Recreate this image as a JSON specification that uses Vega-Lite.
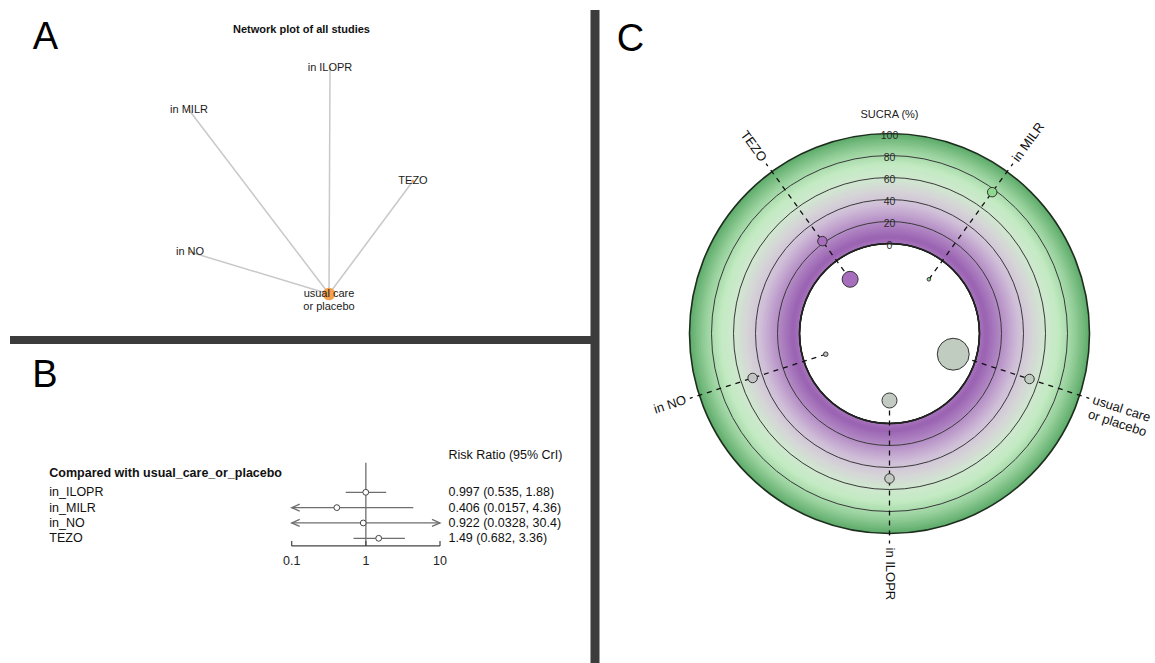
{
  "$schema": "https://vega.github.io/schema/vega-lite/v6.json",
  "background": "white",
  "padding": 0,
  "autosize": {"type": "none"},
  "width": 1155,
  "height": 663,
  "config": {"view": {"stroke": null}, "text": {"font": "Liberation Sans"}},
  "resolve": {"scale": {"x": "independent", "y": "independent", "color": "independent", "fill": "independent", "size": "independent", "radius": "independent"}},
  "datasets": {
    "trt": [
      {"trt": "in MILR", "order": 1, "sucra": 77, "n": 5, "label": "in MILR", "label2": ""},
      {"trt": "usual care or placebo", "order": 2, "sucra": 52, "n": 400, "label": "usual care", "label2": "or placebo"},
      {"trt": "in ILOPR", "order": 3, "sucra": 50, "n": 89, "label": "in ILOPR", "label2": ""},
      {"trt": "in NO", "order": 4, "sucra": 49, "n": 8, "label": "in NO", "label2": ""},
      {"trt": "TEZO", "order": 5, "sucra": 22, "n": 100, "label": "TEZO", "label2": ""}
    ]
  },
  "layer": [
    {
      "data": {"values": [
        {"node": "in ILOPR", "lx": 0.01, "ly": 2.26, "n": 12, "label": "in ILOPR", "label2": ""},
        {"node": "in MILR", "lx": -1.40, "ly": 1.84, "n": 8, "label": "in MILR", "label2": ""},
        {"node": "TEZO", "lx": 0.84, "ly": 1.13, "n": 14, "label": "TEZO", "label2": ""},
        {"node": "in NO", "lx": -1.39, "ly": 0.42, "n": 8, "label": "in NO", "label2": ""},
        {"node": "usual care", "lx": 0, "ly": 0, "n": 400, "label": "usual care", "label2": "or placebo"}
      ]},
      "layer": [
        {
          "transform": [{"filter": "datum.node !== 'usual care'"}],
          "mark": {"type": "rule", "color": "#c8c8c8", "strokeWidth": 1.5},
          "encoding": {
            "x": {"field": "lx", "type": "quantitative", "scale": {"domain": [-3.29, 8.26], "nice": false, "zero": false}, "axis": null},
            "y": {"field": "ly", "type": "quantitative", "scale": {"domain": [-3.69, 2.94], "nice": false, "zero": false}, "axis": null},
            "x2": {"datum": 0},
            "y2": {"datum": 0}
          }
        },
        {
          "mark": {"type": "circle", "color": "#f5a04c", "opacity": 1},
          "encoding": {
            "x": {"field": "lx", "type": "quantitative", "scale": {"domain": [-3.29, 8.26], "nice": false, "zero": false}, "axis": null},
            "y": {"field": "ly", "type": "quantitative", "scale": {"domain": [-3.69, 2.94], "nice": false, "zero": false}, "axis": null},
            "size": {"field": "n", "type": "quantitative", "scale": {"domain": [0, 400], "range": [0, 160]}, "legend": null}
          }
        },
        {
          "mark": {"type": "text", "font": "Liberation Sans", "fontSize": 11, "color": "#1a1a1a", "align": "center", "baseline": "middle"},
          "encoding": {
            "x": {"field": "lx", "type": "quantitative", "scale": {"domain": [-3.29, 8.26], "nice": false, "zero": false}, "axis": null},
            "y": {"field": "ly", "type": "quantitative", "scale": {"domain": [-3.69, 2.94], "nice": false, "zero": false}, "axis": null},
            "text": {"field": "label", "type": "nominal"}
          }
        },
        {
          "transform": [{"filter": "datum.label2 !== ''"}],
          "mark": {"type": "text", "font": "Liberation Sans", "fontSize": 11, "color": "#1a1a1a", "align": "center", "baseline": "middle", "dy": 13},
          "encoding": {
            "x": {"field": "lx", "type": "quantitative", "scale": {"domain": [-3.29, 8.26], "nice": false, "zero": false}, "axis": null},
            "y": {"field": "ly", "type": "quantitative", "scale": {"domain": [-3.69, 2.94], "nice": false, "zero": false}, "axis": null},
            "text": {"field": "label2", "type": "nominal"}
          }
        },
        {
          "data": {"values": [{"t": "Network plot of all studies"}]},
          "mark": {"type": "text", "font": "Liberation Sans", "fontSize": 11, "fontWeight": "bold", "color": "#111", "align": "center", "baseline": "middle"},
          "encoding": {
            "x": {"datum": -0.275, "type": "quantitative", "scale": {"domain": [-3.29, 8.26], "nice": false, "zero": false}, "axis": null},
            "y": {"datum": 2.64, "type": "quantitative", "scale": {"domain": [-3.69, 2.94], "nice": false, "zero": false}, "axis": null},
            "text": {"field": "t", "type": "nominal"}
          }
        },
        {
          "data": {"values": [{"t": "A"}]},
          "mark": {"type": "text", "font": "Liberation Sans", "fontSize": 38, "color": "#000", "align": "center", "baseline": "middle"},
          "encoding": {
            "x": {"datum": -2.835, "type": "quantitative", "scale": {"domain": [-3.29, 8.26], "nice": false, "zero": false}, "axis": null},
            "y": {"datum": 2.56, "type": "quantitative", "scale": {"domain": [-3.69, 2.94], "nice": false, "zero": false}, "axis": null},
            "text": {"field": "t", "type": "nominal"}
          }
        },
        {
          "data": {"values": [{}]},
          "mark": {"type": "rule", "color": "#3c3c3c", "strokeWidth": 8},
          "encoding": {
            "x": {"datum": -3.19, "type": "quantitative", "scale": {"domain": [-3.29, 8.26], "nice": false, "zero": false}, "axis": null},
            "x2": {"datum": 2.66},
            "y": {"datum": -0.46, "type": "quantitative", "scale": {"domain": [-3.69, 2.94], "nice": false, "zero": false}, "axis": null}
          }
        }
      ]
    },
    {
      "data": {"values": [
        {"trt": "in_ILOPR", "row": 1, "rr": 0.997, "lo": 0.535, "hi": 1.88, "txt": "0.997 (0.535, 1.88)"},
        {"trt": "in_MILR", "row": 2, "rr": 0.406, "lo": 0.0157, "hi": 4.36, "txt": "0.406 (0.0157, 4.36)"},
        {"trt": "in_NO", "row": 3, "rr": 0.922, "lo": 0.0328, "hi": 30.4, "txt": "0.922 (0.0328, 30.4)"},
        {"trt": "TEZO", "row": 4, "rr": 1.49, "lo": 0.682, "hi": 3.36, "txt": "1.49 (0.682, 3.36)"}
      ]},
      "layer": [
        {
          "data": {"values": [{}]},
          "mark": {"type": "rule", "color": "#6e6e6e", "strokeWidth": 1.3},
          "encoding": {
            "x": {"datum": 1, "type": "quantitative", "scale": {"type": "log", "domain": [1.1642e-5, 4.39e10], "nice": false}, "axis": null},
            "y": {"datum": -0.93, "type": "quantitative", "scale": {"domain": [-31.114, 12.135], "reverse": true, "nice": false, "zero": false}, "axis": null},
            "y2": {"datum": 4.5}
          }
        },
        {
          "transform": [{"calculate": "max(datum.lo, 0.1)", "as": "lo_c"}, {"calculate": "min(datum.hi, 10)", "as": "hi_c"}],
          "mark": {"type": "rule", "color": "#6e6e6e", "strokeWidth": 1.3},
          "encoding": {
            "x": {"field": "lo_c", "type": "quantitative", "scale": {"type": "log", "domain": [1.1642e-5, 4.39e10], "nice": false}, "axis": null},
            "x2": {"field": "hi_c"},
            "y": {"field": "row", "type": "quantitative", "scale": {"domain": [-31.114, 12.135], "reverse": true, "nice": false, "zero": false}, "axis": null}
          }
        },
        {
          "transform": [{"filter": "datum.lo < 0.1"}],
          "mark": {"type": "point", "shape": "M 4 -1.75 L 0 0 L 4 1.75", "size": 16, "filled": false, "stroke": "#6e6e6e", "strokeWidth": 1.3, "opacity": 1},
          "encoding": {
            "x": {"datum": 0.1, "type": "quantitative", "scale": {"type": "log", "domain": [1.1642e-5, 4.39e10], "nice": false}, "axis": null},
            "y": {"field": "row", "type": "quantitative", "scale": {"domain": [-31.114, 12.135], "reverse": true, "nice": false, "zero": false}, "axis": null}
          }
        },
        {
          "transform": [{"filter": "datum.hi > 10"}],
          "mark": {"type": "point", "shape": "M -4 -1.75 L 0 0 L -4 1.75", "size": 16, "filled": false, "stroke": "#6e6e6e", "strokeWidth": 1.3, "opacity": 1},
          "encoding": {
            "x": {"datum": 10, "type": "quantitative", "scale": {"type": "log", "domain": [1.1642e-5, 4.39e10], "nice": false}, "axis": null},
            "y": {"field": "row", "type": "quantitative", "scale": {"domain": [-31.114, 12.135], "reverse": true, "nice": false, "zero": false}, "axis": null}
          }
        },
        {
          "mark": {"type": "point", "shape": "circle", "size": 34, "filled": true, "fill": "white", "stroke": "#444", "strokeWidth": 1, "opacity": 1},
          "encoding": {
            "x": {"field": "rr", "type": "quantitative", "scale": {"type": "log", "domain": [1.1642e-5, 4.39e10], "nice": false}, "axis": null},
            "y": {"field": "row", "type": "quantitative", "scale": {"domain": [-31.114, 12.135], "reverse": true, "nice": false, "zero": false}, "axis": null}
          }
        },
        {
          "data": {"values": [{}]},
          "mark": {"type": "rule", "color": "#444", "strokeWidth": 1.2},
          "encoding": {
            "x": {"datum": 0.1, "type": "quantitative", "scale": {"type": "log", "domain": [1.1642e-5, 4.39e10], "nice": false}, "axis": null},
            "x2": {"datum": 10},
            "y": {"datum": 4.5, "type": "quantitative", "scale": {"domain": [-31.114, 12.135], "reverse": true, "nice": false, "zero": false}, "axis": null}
          }
        },
        {
          "data": {"values": [{"t": 0.1, "lab": "0.1"}, {"t": 1, "lab": "1"}, {"t": 10, "lab": "10"}]},
          "mark": {"type": "rule", "color": "#444", "strokeWidth": 1.2},
          "encoding": {
            "x": {"field": "t", "type": "quantitative", "scale": {"type": "log", "domain": [1.1642e-5, 4.39e10], "nice": false}, "axis": null},
            "y": {"datum": 4.5, "type": "quantitative", "scale": {"domain": [-31.114, 12.135], "reverse": true, "nice": false, "zero": false}, "axis": null},
            "y2": {"datum": 4.17}
          }
        },
        {
          "data": {"values": [{"t": 0.1, "lab": "0.1"}, {"t": 1, "lab": "1"}, {"t": 10, "lab": "10"}]},
          "mark": {"type": "text", "font": "Liberation Sans", "fontSize": 12.5, "color": "#222", "align": "center", "baseline": "middle"},
          "encoding": {
            "x": {"field": "t", "type": "quantitative", "scale": {"type": "log", "domain": [1.1642e-5, 4.39e10], "nice": false}, "axis": null},
            "y": {"datum": 5.46, "type": "quantitative", "scale": {"domain": [-31.114, 12.135], "reverse": true, "nice": false, "zero": false}, "axis": null},
            "text": {"field": "lab", "type": "nominal"}
          }
        },
        {
          "mark": {"type": "text", "font": "Liberation Sans", "fontSize": 12.5, "color": "#111", "align": "left", "baseline": "middle"},
          "encoding": {
            "x": {"datum": 5.38e-5, "type": "quantitative", "scale": {"type": "log", "domain": [1.1642e-5, 4.39e10], "nice": false}, "axis": null},
            "y": {"field": "row", "type": "quantitative", "scale": {"domain": [-31.114, 12.135], "reverse": true, "nice": false, "zero": false}, "axis": null},
            "text": {"field": "trt", "type": "nominal"}
          }
        },
        {
          "mark": {"type": "text", "font": "Liberation Sans", "fontSize": 12.5, "color": "#111", "align": "left", "baseline": "middle"},
          "encoding": {
            "x": {"datum": 13, "type": "quantitative", "scale": {"type": "log", "domain": [1.1642e-5, 4.39e10], "nice": false}, "axis": null},
            "y": {"field": "row", "type": "quantitative", "scale": {"domain": [-31.114, 12.135], "reverse": true, "nice": false, "zero": false}, "axis": null},
            "text": {"field": "txt", "type": "nominal"}
          }
        },
        {
          "data": {"values": [{"t": "Compared with usual_care_or_placebo"}]},
          "mark": {"type": "text", "font": "Liberation Sans", "fontSize": 12.5, "fontWeight": "bold", "color": "#111", "align": "left", "baseline": "middle"},
          "encoding": {
            "x": {"datum": 5.38e-5, "type": "quantitative", "scale": {"type": "log", "domain": [1.1642e-5, 4.39e10], "nice": false}, "axis": null},
            "y": {"datum": -0.24, "type": "quantitative", "scale": {"domain": [-31.114, 12.135], "reverse": true, "nice": false, "zero": false}, "axis": null},
            "text": {"field": "t", "type": "nominal"}
          }
        },
        {
          "data": {"values": [{"t": "Risk Ratio (95% CrI)"}]},
          "mark": {"type": "text", "font": "Liberation Sans", "fontSize": 12.5, "color": "#111", "align": "left", "baseline": "middle"},
          "encoding": {
            "x": {"datum": 13, "type": "quantitative", "scale": {"type": "log", "domain": [1.1642e-5, 4.39e10], "nice": false}, "axis": null},
            "y": {"datum": -1.43, "type": "quantitative", "scale": {"domain": [-31.114, 12.135], "reverse": true, "nice": false, "zero": false}, "axis": null},
            "text": {"field": "t", "type": "nominal"}
          }
        },
        {
          "data": {"values": [{"t": "B"}]},
          "mark": {"type": "text", "font": "Liberation Sans", "fontSize": 38, "color": "#000", "align": "center", "baseline": "middle"},
          "encoding": {
            "x": {"datum": 4.71e-5, "type": "quantitative", "scale": {"type": "log", "domain": [1.1642e-5, 4.39e10], "nice": false}, "axis": null},
            "y": {"datum": -6.59, "type": "quantitative", "scale": {"domain": [-31.114, 12.135], "reverse": true, "nice": false, "zero": false}, "axis": null},
            "text": {"field": "t", "type": "nominal"}
          }
        }
      ]
    },
    {
      "layer": [
        {
          "data": {"values": [{"hi":100,"mid":99},{"hi":98,"mid":97},{"hi":96,"mid":95},{"hi":94,"mid":93},{"hi":92,"mid":91},{"hi":90,"mid":89},{"hi":88,"mid":87},{"hi":86,"mid":85},{"hi":84,"mid":83},{"hi":82,"mid":81},{"hi":80,"mid":79},{"hi":78,"mid":77},{"hi":76,"mid":75},{"hi":74,"mid":73},{"hi":72,"mid":71},{"hi":70,"mid":69},{"hi":68,"mid":67},{"hi":66,"mid":65},{"hi":64,"mid":63},{"hi":62,"mid":61},{"hi":60,"mid":59},{"hi":58,"mid":57},{"hi":56,"mid":55},{"hi":54,"mid":53},{"hi":52,"mid":51},{"hi":50,"mid":49},{"hi":48,"mid":47},{"hi":46,"mid":45},{"hi":44,"mid":43},{"hi":42,"mid":41},{"hi":40,"mid":39},{"hi":38,"mid":37},{"hi":36,"mid":35},{"hi":34,"mid":33},{"hi":32,"mid":31},{"hi":30,"mid":29},{"hi":28,"mid":27},{"hi":26,"mid":25},{"hi":24,"mid":23},{"hi":22,"mid":21},{"hi":20,"mid":19},{"hi":18,"mid":17},{"hi":16,"mid":15},{"hi":14,"mid":13},{"hi":12,"mid":11},{"hi":10,"mid":9},{"hi":8,"mid":7},{"hi":6,"mid":5},{"hi":4,"mid":3},{"hi":2,"mid":1}]},
          "mark": {"type": "arc", "theta": 0, "theta2": 6.2832},
          "encoding": {
            "x": {"datum": 0, "type": "quantitative", "scale": {"domain": [-889.5, 265.5], "nice": false, "zero": false}, "axis": null},
            "y": {"datum": 0, "type": "quantitative", "scale": {"domain": [-329.5, 333.5], "nice": false, "zero": false}, "axis": null},
            "radius": {"field": "hi", "type": "quantitative", "stack": null, "scale": {"type": "linear", "domain": [0, 100], "range": [90, 200], "zero": false, "nice": false}},
            "color": {"field": "mid", "type": "quantitative", "scale": {"domain": [0, 6, 20, 35, 48, 60, 72, 86, 100], "range": ["#a774bc", "#9a62b2", "#b48cc5", "#cfbdd8", "#d6d4d7", "#cfe8cf", "#c2eac2", "#96d09b", "#5caa69"], "interpolate": "rgb"}, "legend": null}
          }
        },
        {
          "data": {"values": [{"s": 20}, {"s": 40}, {"s": 60}, {"s": 80}]},
          "mark": {"type": "arc", "theta": 0, "theta2": 6.2832, "filled": false, "stroke": "#3a3a3a", "strokeWidth": 1},
          "encoding": {
            "x": {"datum": 0, "type": "quantitative", "scale": {"domain": [-889.5, 265.5], "nice": false, "zero": false}, "axis": null},
            "y": {"datum": 0, "type": "quantitative", "scale": {"domain": [-329.5, 333.5], "nice": false, "zero": false}, "axis": null},
            "radius": {"field": "s", "type": "quantitative", "stack": null, "scale": {"type": "linear", "domain": [0, 100], "range": [90, 200], "zero": false, "nice": false}}
          }
        },
        {
          "data": {"values": [{"s": 100}]},
          "mark": {"type": "arc", "theta": 0, "theta2": 6.2832, "filled": false, "stroke": "#1e2e1e", "strokeWidth": 1.6},
          "encoding": {
            "x": {"datum": 0, "type": "quantitative", "scale": {"domain": [-889.5, 265.5], "nice": false, "zero": false}, "axis": null},
            "y": {"datum": 0, "type": "quantitative", "scale": {"domain": [-329.5, 333.5], "nice": false, "zero": false}, "axis": null},
            "radius": {"field": "s", "type": "quantitative", "stack": null, "scale": {"type": "linear", "domain": [0, 100], "range": [90, 200], "zero": false, "nice": false}}
          }
        },
        {
          "data": {"values": [{"s": 0}]},
          "mark": {"type": "arc", "theta": 0, "theta2": 6.2832, "fill": "white", "stroke": "#222", "strokeWidth": 1.5},
          "encoding": {
            "x": {"datum": 0, "type": "quantitative", "scale": {"domain": [-889.5, 265.5], "nice": false, "zero": false}, "axis": null},
            "y": {"datum": 0, "type": "quantitative", "scale": {"domain": [-329.5, 333.5], "nice": false, "zero": false}, "axis": null},
            "radius": {"field": "s", "type": "quantitative", "stack": null, "scale": {"type": "linear", "domain": [0, 100], "range": [90, 200], "zero": false, "nice": false}}
          }
        },
        {
          "data": {"name": "trt"},
          "transform": [
            {"calculate": "72 * datum.order - 36", "as": "deg"},
            {"calculate": "datum.deg * PI / 180", "as": "a"},
            {"calculate": "90 + 1.1 * datum.sucra", "as": "rp"},
            {"calculate": "datum.rp * sin(datum.a)", "as": "px"},
            {"calculate": "datum.rp * cos(datum.a)", "as": "py"},
            {"calculate": "67 * sin(datum.a)", "as": "bx"},
            {"calculate": "67 * cos(datum.a)", "as": "by"},
            {"calculate": "210 * sin(datum.a)", "as": "ex"},
            {"calculate": "210 * cos(datum.a)", "as": "ey"},
            {"calculate": "214 * sin(datum.a)", "as": "lx"},
            {"calculate": "214 * cos(datum.a)", "as": "ly"},
            {"calculate": "datum.deg <= 180 ? datum.deg - 90 : datum.deg - 270", "as": "tangle"}
          ],
          "layer": [
            {
              "mark": {"type": "rule", "color": "#111", "strokeWidth": 1.3, "strokeDash": [5, 5]},
              "encoding": {
                "x": {"field": "bx", "type": "quantitative", "scale": {"domain": [-889.5, 265.5], "nice": false, "zero": false}, "axis": null},
                "y": {"field": "by", "type": "quantitative", "scale": {"domain": [-329.5, 333.5], "nice": false, "zero": false}, "axis": null},
                "x2": {"field": "ex"},
                "y2": {"field": "ey"}
              }
            },
            {
              "mark": {"type": "circle", "stroke": "#333", "strokeWidth": 1, "opacity": 1, "fillOpacity": 1},
              "encoding": {
                "x": {"field": "bx", "type": "quantitative", "scale": {"domain": [-889.5, 265.5], "nice": false, "zero": false}, "axis": null},
                "y": {"field": "by", "type": "quantitative", "scale": {"domain": [-329.5, 333.5], "nice": false, "zero": false}, "axis": null},
                "size": {"field": "n", "type": "quantitative", "scale": {"domain": [0, 400], "range": [0, 1018]}, "legend": null},
                "fill": {"field": "sucra", "type": "quantitative", "scale": {"domain": [0, 35, 50, 65, 100], "range": ["#9a55b8", "#b07cc2", "#c3c9c3", "#a8dca8", "#5fcf5f"], "interpolate": "rgb"}, "legend": null}
              }
            },
            {
              "mark": {"type": "circle", "size": 90, "stroke": "#333", "strokeWidth": 1, "opacity": 1, "fillOpacity": 1},
              "encoding": {
                "x": {"field": "px", "type": "quantitative", "scale": {"domain": [-889.5, 265.5], "nice": false, "zero": false}, "axis": null},
                "y": {"field": "py", "type": "quantitative", "scale": {"domain": [-329.5, 333.5], "nice": false, "zero": false}, "axis": null},
                "fill": {"field": "sucra", "type": "quantitative", "scale": {"domain": [0, 35, 50, 65, 100], "range": ["#9a55b8", "#b07cc2", "#c3c9c3", "#a8dca8", "#5fcf5f"], "interpolate": "rgb"}, "legend": null}
              }
            },
            {
              "transform": [{"filter": "datum.deg <= 180"}],
              "mark": {"type": "text", "font": "Liberation Sans", "fontSize": 13, "color": "#111", "align": "left", "baseline": "middle"},
              "encoding": {
                "x": {"field": "lx", "type": "quantitative", "scale": {"domain": [-889.5, 265.5], "nice": false, "zero": false}, "axis": null},
                "y": {"field": "ly", "type": "quantitative", "scale": {"domain": [-329.5, 333.5], "nice": false, "zero": false}, "axis": null},
                "angle": {"field": "tangle", "type": "quantitative", "scale": null},
                "text": {"field": "label", "type": "nominal"}
              }
            },
            {
              "transform": [{"filter": "datum.deg <= 180 && datum.label2 !== ''"}],
              "mark": {"type": "text", "font": "Liberation Sans", "fontSize": 13, "color": "#111", "align": "left", "baseline": "middle", "dy": 15},
              "encoding": {
                "x": {"field": "lx", "type": "quantitative", "scale": {"domain": [-889.5, 265.5], "nice": false, "zero": false}, "axis": null},
                "y": {"field": "ly", "type": "quantitative", "scale": {"domain": [-329.5, 333.5], "nice": false, "zero": false}, "axis": null},
                "angle": {"field": "tangle", "type": "quantitative", "scale": null},
                "text": {"field": "label2", "type": "nominal"}
              }
            },
            {
              "transform": [{"filter": "datum.deg > 180"}],
              "mark": {"type": "text", "font": "Liberation Sans", "fontSize": 13, "color": "#111", "align": "right", "baseline": "middle"},
              "encoding": {
                "x": {"field": "lx", "type": "quantitative", "scale": {"domain": [-889.5, 265.5], "nice": false, "zero": false}, "axis": null},
                "y": {"field": "ly", "type": "quantitative", "scale": {"domain": [-329.5, 333.5], "nice": false, "zero": false}, "axis": null},
                "angle": {"field": "tangle", "type": "quantitative", "scale": null},
                "text": {"field": "label", "type": "nominal"}
              }
            }
          ]
        },
        {
          "data": {"values": [{"s": 0, "lab": "0"}, {"s": 20, "lab": "20"}, {"s": 40, "lab": "40"}, {"s": 60, "lab": "60"}, {"s": 80, "lab": "80"}, {"s": 100, "lab": "100"}]},
          "transform": [{"calculate": "87.5 + 1.1 * datum.s", "as": "ty"}],
          "mark": {"type": "text", "font": "Liberation Sans", "fontSize": 10.5, "color": "#2a2a2a", "align": "center", "baseline": "middle"},
          "encoding": {
            "x": {"datum": 0, "type": "quantitative", "scale": {"domain": [-889.5, 265.5], "nice": false, "zero": false}, "axis": null},
            "y": {"field": "ty", "type": "quantitative", "scale": {"domain": [-329.5, 333.5], "nice": false, "zero": false}, "axis": null},
            "text": {"field": "lab", "type": "nominal"}
          }
        },
        {
          "data": {"values": [{"t": "SUCRA (%)"}]},
          "mark": {"type": "text", "font": "Liberation Sans", "fontSize": 11, "color": "#222", "align": "center", "baseline": "middle"},
          "encoding": {
            "x": {"datum": 0, "type": "quantitative", "scale": {"domain": [-889.5, 265.5], "nice": false, "zero": false}, "axis": null},
            "y": {"datum": 218.5, "type": "quantitative", "scale": {"domain": [-329.5, 333.5], "nice": false, "zero": false}, "axis": null},
            "text": {"field": "t", "type": "nominal"}
          }
        },
        {
          "data": {"values": [{"t": "C"}]},
          "mark": {"type": "text", "font": "Liberation Sans", "fontSize": 38, "color": "#000", "align": "center", "baseline": "middle"},
          "encoding": {
            "x": {"datum": -259, "type": "quantitative", "scale": {"domain": [-889.5, 265.5], "nice": false, "zero": false}, "axis": null},
            "y": {"datum": 293.5, "type": "quantitative", "scale": {"domain": [-329.5, 333.5], "nice": false, "zero": false}, "axis": null},
            "text": {"field": "t", "type": "nominal"}
          }
        },
        {
          "data": {"values": [{}]},
          "mark": {"type": "rule", "color": "#3c3c3c", "strokeWidth": 9},
          "encoding": {
            "x": {"datum": -294.5, "type": "quantitative", "scale": {"domain": [-889.5, 265.5], "nice": false, "zero": false}, "axis": null},
            "y": {"datum": 323.5, "type": "quantitative", "scale": {"domain": [-329.5, 333.5], "nice": false, "zero": false}, "axis": null},
            "y2": {"datum": -329.5}
          }
        }
      ]
    }
  ]
}
